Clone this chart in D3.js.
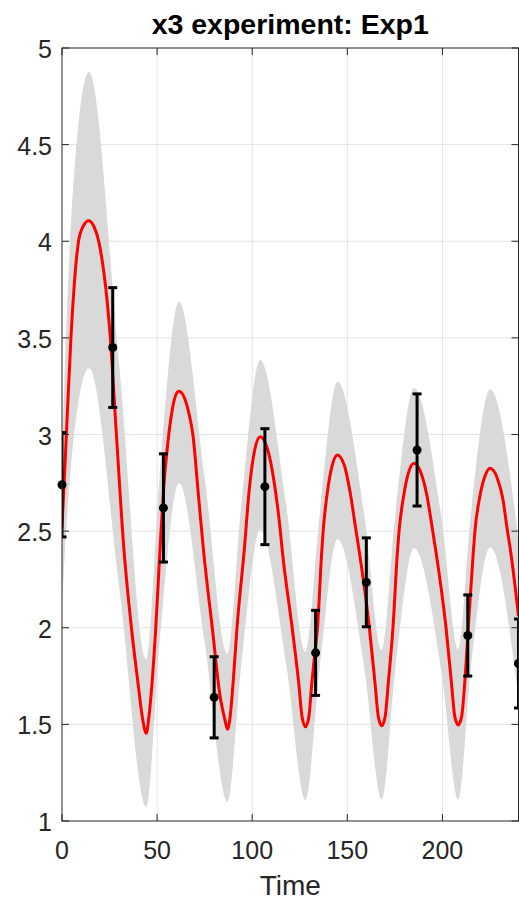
<!DOCTYPE html>
<html>
<head>
<meta charset="utf-8">
<script src="https://cdn.jsdelivr.net/npm/d3@7"></script>
<style>
  body { margin: 0; background: #fff; }
  text { font-family: "Liberation Sans", Arial, Helvetica, sans-serif; fill: #262626; }
</style>
</head>
<body>
<div id="chart"></div>
<script>
var width = 519,
    height = 905,
    plotLeft = 62,
    plotRight = 518.5,
    plotTop = 48,
    plotBottom = 821;

// model curve (red)
var redT = [0, 2.3, 4.7, 8.7, 11.3, 14.0, 16.6, 19.3, 25.4, 28.6, 32.6, 36.5, 40.0, 42.2, 44.3,
            45.7, 47.3, 49.3, 51.5, 53.3, 55.3, 57.5, 59.5, 61.5,
            64.5, 67.0, 68.8, 71.6, 74.4, 79.0, 83.2, 85.5, 87.0,
            88.5, 90.0, 92.0, 95.8, 98.5, 101.3, 104.2,
            108.0, 111.5, 114.8, 115.8, 121.0, 124.5, 126.2, 128.0,
            129.8, 131.3, 132.9, 134.3, 136.6, 137.3, 139.5, 141.8, 144.8,
            148.5, 151.5, 154.6, 156.2, 161.6, 164.6, 166.3, 168.1,
            169.9, 171.5, 174.0, 176.4, 177.2, 179.5, 182.2, 185.1,
            188.8, 191.8, 194.9, 196.5, 201.9, 204.8, 206.5, 208.3,
            210.1, 211.7, 213.6, 216.3, 217.1, 219.5, 222.2, 225.1,
            228.8, 231.8, 234.2, 235.8, 240];
var redV = [2.52, 3.0, 3.5, 4.0, 4.08, 4.106, 4.08, 4.0, 3.5, 3.0, 2.4, 2.0, 1.71, 1.54, 1.454,
            1.54, 1.71, 2.0, 2.4, 2.7, 2.925, 3.10, 3.196, 3.224,
            3.186, 3.097, 3.0, 2.7, 2.4, 2.0, 1.64, 1.53, 1.475,
            1.55, 1.72, 2.0, 2.4, 2.72, 2.92, 2.989,
            2.926, 2.756, 2.5, 2.4, 2.0, 1.71, 1.54, 1.488,
            1.54, 1.71, 1.866, 2.0, 2.4, 2.5, 2.70, 2.83, 2.894,
            2.838, 2.70, 2.5, 2.4, 2.0, 1.71, 1.54, 1.493,
            1.54, 1.71, 2.0, 2.4, 2.5, 2.675, 2.804, 2.851,
            2.80, 2.687, 2.5, 2.4, 2.0, 1.71, 1.54, 1.497,
            1.54, 1.71, 2.0, 2.4, 2.5, 2.67, 2.78, 2.825,
            2.775, 2.665, 2.5, 2.4, 2.06];

// grey uncertainty band
var bandT =     [0, 3.8, 14.2, 30.1, 44.3, 51.2, 61.5, 75.0, 87.0, 94.2, 104.2, 117.9, 128.0,
                 135.4, 144.8, 159.0, 168.1, 175.0, 185.1, 199.6, 208.3, 214.7, 225.1, 240];
var bandUpper = [2.93, 3.90, 4.876, 3.357, 1.837, 2.762, 3.687, 2.776, 1.864, 2.625, 3.386, 2.631, 1.876,
                 2.575, 3.273, 2.579, 1.885, 2.562, 3.239, 2.564, 1.888, 2.561, 3.234, 2.45];
var bandLower = [2.11, 2.73, 3.343, 2.209, 1.074, 1.912, 2.749, 1.925, 1.100, 1.803, 2.506, 1.808, 1.109,
                 1.784, 2.458, 1.785, 1.112, 1.762, 2.411, 1.762, 1.112, 1.764, 2.416, 1.63];

// measurements with error bars
var obsT = [0, 26.67, 53.33, 80, 106.67, 133.33, 160, 186.67, 213.33, 240];
var obsV = [2.74, 3.45, 2.62, 1.64, 2.73, 1.87, 2.235, 2.92, 1.96, 1.815];
var obsErr = [0.27, 0.31, 0.28, 0.21, 0.30, 0.22, 0.23, 0.29, 0.21, 0.23];

var xTicks = [0, 50, 100, 150, 200],
    yTicks = [1, 1.5, 2, 2.5, 3, 3.5, 4, 4.5, 5];

var x = d3.scaleLinear().domain([0, 240]).range([plotLeft, plotRight]),
    y = d3.scaleLinear().domain([1, 5]).range([plotBottom, plotTop]);

var svg = d3.select("#chart").append("svg")
    .attr("width", width)
    .attr("height", height);

svg.append("defs").append("clipPath")
    .attr("id", "plot")
  .append("rect")
    .attr("x", plotLeft)
    .attr("y", plotTop)
    .attr("width", plotRight - plotLeft)
    .attr("height", plotBottom - plotTop);

// grid
svg.append("g").selectAll("line").data(xTicks.slice(1)).enter().append("line")
    .attr("x1", function(d) { return x(d); })
    .attr("x2", function(d) { return x(d); })
    .attr("y1", plotTop).attr("y2", plotBottom)
    .attr("stroke", "#e3e3e3").attr("stroke-width", 1);
svg.append("g").selectAll("line").data(yTicks.slice(1, -1)).enter().append("line")
    .attr("y1", function(d) { return y(d); })
    .attr("y2", function(d) { return y(d); })
    .attr("x1", plotLeft).attr("x2", plotRight)
    .attr("stroke", "#e3e3e3").attr("stroke-width", 1);

var plot = svg.append("g").attr("clip-path", "url(#plot)");

var band = bandT.map(function(t, i) { return {t: t, lo: bandLower[i], hi: bandUpper[i]}; });
plot.append("path")
    .datum(band)
    .attr("fill", "#d9d9d9")
    .attr("d", d3.area()
        .curve(d3.curveMonotoneX)
        .x(function(d) { return x(d.t); })
        .y0(function(d) { return y(d.lo); })
        .y1(function(d) { return y(d.hi); }));

var red = redT.map(function(t, i) { return {t: t, v: redV[i]}; });
plot.append("path")
    .datum(red)
    .attr("fill", "none")
    .attr("stroke", "#ff0000")
    .attr("stroke-width", 3)
    .attr("stroke-linejoin", "round")
    .attr("d", d3.line()
        .curve(d3.curveMonotoneX)
        .x(function(d) { return x(d.t); })
        .y(function(d) { return y(d.v); }));

// error bars
var obs = obsT.map(function(t, i) { return {t: t, v: obsV[i], e: obsErr[i]}; });
var bars = plot.append("g").attr("stroke", "#000").attr("stroke-width", 3);
bars.selectAll(".stem").data(obs).enter().append("line")
    .attr("x1", function(d) { return x(d.t); })
    .attr("x2", function(d) { return x(d.t); })
    .attr("y1", function(d) { return y(d.v - d.e); })
    .attr("y2", function(d) { return y(d.v + d.e); });
[-1, 1].forEach(function(s) {
  bars.selectAll(".cap" + s).data(obs).enter().append("line")
      .attr("x1", function(d) { return x(d.t) - 4.5; })
      .attr("x2", function(d) { return x(d.t) + 4.5; })
      .attr("y1", function(d) { return y(d.v + s * d.e); })
      .attr("y2", function(d) { return y(d.v + s * d.e); });
});
svg.append("g").selectAll("circle").data(obs).enter().append("circle")
    .attr("cx", function(d) { return x(d.t); })
    .attr("cy", function(d) { return y(d.v); })
    .attr("r", 4.5)
    .attr("fill", "#000");

// box and ticks
var axis = svg.append("g").attr("stroke", "#262626").attr("stroke-width", 1);
axis.append("rect")
    .attr("x", plotLeft).attr("y", plotTop)
    .attr("width", plotRight - plotLeft).attr("height", plotBottom - plotTop)
    .attr("fill", "none");
xTicks.forEach(function(d) {
  axis.append("line").attr("x1", x(d)).attr("x2", x(d)).attr("y1", plotBottom).attr("y2", plotBottom - 7);
  axis.append("line").attr("x1", x(d)).attr("x2", x(d)).attr("y1", plotTop).attr("y2", plotTop + 7);
});
yTicks.forEach(function(d) {
  axis.append("line").attr("y1", y(d)).attr("y2", y(d)).attr("x1", plotLeft).attr("x2", plotLeft + 7);
  axis.append("line").attr("y1", y(d)).attr("y2", y(d)).attr("x1", plotRight).attr("x2", plotRight - 7);
});

svg.append("g").selectAll("text").data(xTicks).enter().append("text")
    .attr("x", function(d) { return x(d); })
    .attr("y", 859)
    .attr("text-anchor", "middle")
    .attr("font-size", 25)
    .text(function(d) { return d; });

svg.append("g").selectAll("text").data(yTicks).enter().append("text")
    .attr("x", 52)
    .attr("y", function(d) { return y(d) + 10; })
    .attr("text-anchor", "end")
    .attr("font-size", 25)
    .text(function(d) { return d; });

svg.append("text")
    .attr("x", (plotLeft + plotRight) / 2)
    .attr("y", 895)
    .attr("text-anchor", "middle")
    .attr("font-size", 28)
    .text("Time");

svg.append("text")
    .attr("x", (plotLeft + plotRight) / 2)
    .attr("y", 34)
    .attr("text-anchor", "middle")
    .attr("font-size", 28.5)
    .attr("font-weight", "bold")
    .style("fill", "#000")
    .text("x3 experiment: Exp1");
</script>
</body>
</html>
